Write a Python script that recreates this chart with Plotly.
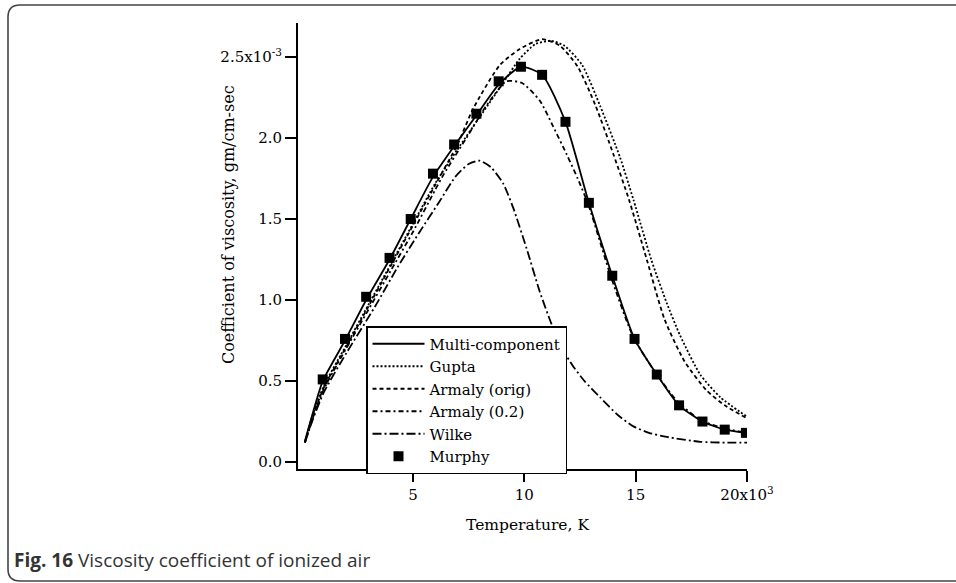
import plotly.graph_objects as go

# ---------------- data (values in units of 10^-3 gm/cm-sec, T in 10^3 K) -------------
murphy_x = [0.95, 1.95, 2.9, 3.95, 4.9, 5.9, 6.85, 7.85, 8.85, 9.85, 10.8, 11.85,
            12.9, 13.95, 14.95, 15.95, 16.95, 18.0, 19.0, 19.95]
murphy_y = [0.51, 0.76, 1.02, 1.26, 1.50, 1.78, 1.96, 2.15, 2.35, 2.44, 2.39, 2.10,
            1.60, 1.15, 0.76, 0.54, 0.35, 0.25, 0.20, 0.18]

multi_x = [0.15, 0.5, 0.95, 1.95, 2.9, 3.95, 4.9, 5.9, 6.85, 7.85, 8.85, 9.85, 10.8,
           11.85, 12.9, 13.95, 14.95, 15.95, 16.95, 18.0, 19.0, 19.95]
multi_y = [0.13, 0.30, 0.50, 0.75, 1.00, 1.25, 1.50, 1.76, 1.95, 2.14, 2.33, 2.44, 2.39,
           2.10, 1.60, 1.15, 0.76, 0.54, 0.35, 0.25, 0.20, 0.18]

gupta_x = [0.15, 0.5, 1, 2, 3, 4, 5, 6, 7, 8, 9, 9.8, 10.5, 11.2, 11.8, 12.6, 13.4,
           14.3, 14.9, 15.7, 16.4, 17.0, 17.9, 18.8, 20]
gupta_y = [0.12, 0.29, 0.47, 0.72, 0.97, 1.22, 1.47, 1.72, 1.93, 2.13, 2.33, 2.49, 2.58,
           2.60, 2.57, 2.45, 2.20, 1.88, 1.62, 1.25, 0.98, 0.78, 0.54, 0.40, 0.28]

armaly_orig_x = [0.15, 0.5, 1, 2, 3, 4, 5, 6, 7, 7.7, 8.9, 9.8, 10.8, 11.6, 12.4, 13.2,
                 14.0, 14.7, 15.5, 16.3, 17.2, 18.2, 19.0, 20]
armaly_orig_y = [0.12, 0.28, 0.46, 0.71, 0.96, 1.21, 1.46, 1.71, 1.96, 2.18, 2.45, 2.55,
                 2.61, 2.57, 2.44, 2.20, 1.90, 1.62, 1.25, 0.88, 0.62, 0.44, 0.35, 0.27]

armaly02_x = [0.15, 0.5, 1, 2, 3, 4, 5, 6, 6.4, 7.4, 8.3, 9.2, 9.9, 10.7, 11.3, 11.9,
              12.4, 12.9, 13.9, 14.9, 15.9, 16.9, 17.9, 18.9, 20]
armaly02_y = [0.12, 0.27, 0.45, 0.70, 0.94, 1.18, 1.42, 1.68, 1.78, 2.00, 2.20, 2.35,
              2.34, 2.23, 2.07, 1.90, 1.75, 1.58, 1.14, 0.77, 0.55, 0.37, 0.26, 0.21, 0.18]

wilke_x = [0.15, 0.5, 1, 2, 3.3, 4.3, 5.3, 6.2, 6.9, 7.5, 8.0, 8.5, 9.05, 9.5, 10.1,
           10.7, 11.2, 11.7, 12.2, 12.7, 13.4, 14.2, 14.9, 15.6, 16.4, 17.9, 19, 20]
wilke_y = [0.12, 0.26, 0.43, 0.67, 0.96, 1.20, 1.42, 1.61, 1.76, 1.84, 1.86, 1.82, 1.72,
           1.57, 1.32, 1.05, 0.86, 0.70, 0.59, 0.50, 0.40, 0.29, 0.22, 0.18, 0.155, 0.125,
           0.12, 0.12]

x_tickvals = [5, 10, 15, 20]
x_ticktext = ["5", "10", "15", "20x10<sup>3</sup>"]
y_tickvals = [0.0, 0.5, 1.0, 1.5, 2.0, 2.5]
y_ticktext = ["0.0", "0.5", "1.0", "1.5", "2.0", "2.5x10<sup>-3</sup>"]

# ---------------- layout geometry (pixels) ----------------
W, H = 956, 583
L, R, T, B = 298, 747, 23, 469


def px(x):
    return (x - L) / (R - L)


def py(y):
    return (B - y) / (B - T)


SERIF = "DejaVu Serif"
fig = go.Figure()

line_w = 1.8
fig.add_trace(go.Scatter(x=multi_x, y=multi_y, mode="lines", name="Multi-component",
                         line=dict(color="black", width=line_w, shape="spline", smoothing=0.6)))
fig.add_trace(go.Scatter(x=gupta_x, y=gupta_y, mode="lines", name="Gupta",
                         line=dict(color="black", width=line_w, dash="2px,2px", shape="spline", smoothing=0.6)))
fig.add_trace(go.Scatter(x=armaly_orig_x, y=armaly_orig_y, mode="lines", name="Armaly (orig)",
                         line=dict(color="black", width=line_w, dash="4px,3px", shape="spline", smoothing=0.6)))
fig.add_trace(go.Scatter(x=armaly02_x, y=armaly02_y, mode="lines", name="Armaly (0.2)",
                         line=dict(color="black", width=line_w, dash="5px,3px,2px,3px", shape="spline", smoothing=0.6)))
fig.add_trace(go.Scatter(x=wilke_x, y=wilke_y, mode="lines", name="Wilke",
                         line=dict(color="black", width=line_w, dash="9px,3px,2px,3px", shape="spline", smoothing=0.6)))
fig.add_trace(go.Scatter(x=murphy_x, y=murphy_y, mode="markers", name="Murphy",
                         marker=dict(symbol="square", size=10, color="black")))

fig.update_xaxes(range=[-0.16, 20], showline=True, linecolor="black", linewidth=2,
                 showgrid=False, zeroline=False, ticks="outside", ticklen=11, tickwidth=2,
                 tickcolor="black", tickvals=x_tickvals, ticktext=x_ticktext,
                 tickfont=dict(family=SERIF, size=15, color="black"))
fig.update_yaxes(range=[-0.043, 2.71], showline=True, linecolor="black", linewidth=2,
                 showgrid=False, zeroline=False, ticks="outside", ticklen=11, tickwidth=2,
                 tickcolor="black", tickvals=y_tickvals, ticktext=y_ticktext,
                 tickfont=dict(family=SERIF, size=15, color="black"))

# open frame: top, left and bottom edges with rounded left corners; right side runs off-page
r = 12
fx0, fy0, fx1, fy1 = 8, 5, 1000, 581
frame_path = (
    f"M {px(fx1)} {py(fy0)} L {px(fx0 + r)} {py(fy0)} "
    f"Q {px(fx0)} {py(fy0)} {px(fx0)} {py(fy0 + r)} "
    f"L {px(fx0)} {py(fy1 - r)} Q {px(fx0)} {py(fy1)} {px(fx0 + r)} {py(fy1)} "
    f"L {px(fx1)} {py(fy1)}"
)

fig.update_layout(
    width=W, height=H,
    margin=dict(l=L, r=W - R, t=T, b=H - B, pad=0),
    paper_bgcolor="white", plot_bgcolor="white",
    shapes=[dict(type="path", xref="paper", yref="paper", path=frame_path,
                 line=dict(color="#444444", width=1.6), layer="below")],
    legend=dict(x=px(366), y=py(326), xanchor="left", yanchor="top",
                bgcolor="white", bordercolor="black", borderwidth=1.5,
                font=dict(family=SERIF, size=15, color="black"),
                itemwidth=52, tracegroupgap=0),
    annotations=[
        dict(text="Temperature, K", x=px(527), y=py(525), xref="paper", yref="paper",
             showarrow=False, xanchor="center", yanchor="middle",
             font=dict(family=SERIF, size=15.5, color="black")),
        dict(text="Coefficient of viscosity, gm/cm-sec", x=px(228), y=py(225),
             xref="paper", yref="paper", showarrow=False, textangle=-90,
             xanchor="center", yanchor="middle",
             font=dict(family=SERIF, size=16, color="black")),
        dict(text="<b>Fig. 16</b> Viscosity coefficient of ionized air",
             x=px(12), y=py(560), xref="paper", yref="paper", showarrow=False,
             xanchor="left", yanchor="middle",
             font=dict(family="Open Sans", size=19, color="#333333")),
    ],
)

fig.write_html("out.html")
